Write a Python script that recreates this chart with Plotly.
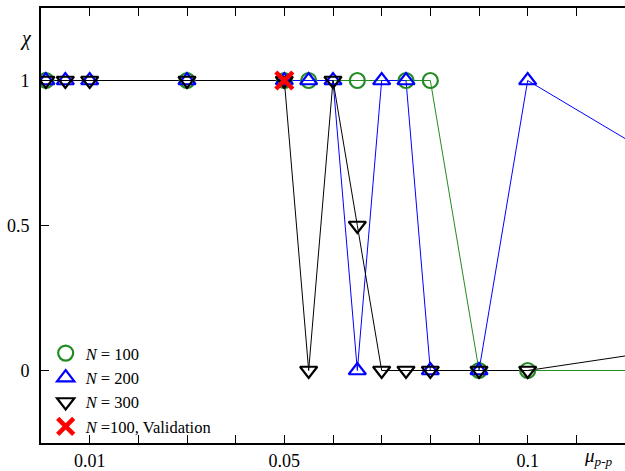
import plotly.graph_objects as go

# Data
x100 = [0.001, 0.03, 0.05, 0.055, 0.065, 0.075, 0.08, 0.09, 0.1, 0.2]
y100 = [1, 1, 1, 1, 1, 1, 1, 0, 0, 0]

x200 = [0.001, 0.005, 0.01, 0.03, 0.05, 0.055, 0.06, 0.065, 0.07, 0.075, 0.08, 0.09, 0.1, 0.2]
y200 = [1, 1, 1, 1, 1, 1, 1, 0, 1, 1, 0, 0, 1, 0]

x300 = [0.001, 0.005, 0.01, 0.03, 0.05, 0.055, 0.06, 0.065, 0.07, 0.075, 0.08, 0.09, 0.1, 0.2]
y300 = [1, 1, 1, 1, 1, 0, 1, 0.5, 0, 0, 0, 0, 0, 0.25]

xval = [0.05]
yval = [1]

xtick_vals = [0.01, 0.02, 0.03, 0.04, 0.05, 0.06, 0.07, 0.08, 0.09, 0.1, 0.11]
xtick_text = ["0.01", "", "", "", "0.05", "", "", "", "", "0.1", ""]
ytick_vals = [0, 0.5, 1]
ytick_text = ["0", "0.5", "1"]

FONT = "Liberation Serif"

series = [
    (x100, y100, "<i>N</i> = 100", "#228B22", "circle-open"),
    (x200, y200, "<i>N</i> = 200", "#0000FF", "triangle-up-open"),
    (x300, y300, "<i>N</i> = 300", "#000000", "triangle-down-open"),
]

fig = go.Figure()
for xs, ys, name, col, sym in series:
    fig.add_trace(go.Scatter(x=xs, y=ys, mode="lines", showlegend=False,
                             line=dict(color=col, width=1), hoverinfo="skip"))
for xs, ys, name, col, sym in series:
    fig.add_trace(go.Scatter(x=xs, y=ys, mode="markers", name=name,
                             marker=dict(symbol=sym, size=15, color=col, line=dict(width=2.2))))
fig.add_trace(go.Scatter(
    x=xval, y=yval, mode="markers", name="<i>N</i> =100, Validation",
    marker=dict(symbol="x-thin", size=17, color="#FF0000", line=dict(width=4.5, color="#FF0000")),
))

def px(xp):
    return (xp - 41) / 584

def py(yp):
    return (443 - yp) / 435

fig.update_layout(
    width=625, height=471,
    margin=dict(l=41, r=0, t=8, b=28),
    paper_bgcolor="white", plot_bgcolor="white",
    font=dict(family=FONT, size=18, color="black"),
    showlegend=True,
    legend=dict(x=0.008, y=-0.002, xanchor="left", yanchor="bottom",
                bgcolor="rgba(0,0,0,0)", font=dict(family=FONT, size=16.5),
                tracegroupgap=0, itemwidth=30),
    xaxis=dict(range=[0, 0.12], showgrid=False, zeroline=False,
               showline=True, linecolor="black", linewidth=2,
               mirror="ticks", ticks="inside", ticklen=8, tickcolor="black", tickwidth=1,
               tickvals=xtick_vals, ticktext=xtick_text,
               tickfont=dict(family=FONT, size=18)),
    yaxis=dict(range=[-0.25, 1.25], showgrid=False, zeroline=False,
               showline=True, linecolor="black", linewidth=2,
               ticks="inside", ticklen=8, tickcolor="black", tickwidth=1,
               tickvals=ytick_vals, ticktext=ytick_text,
               ticklabelstandoff=6,
               tickfont=dict(family=FONT, size=18)),
    annotations=[
        dict(text="<i>χ</i>", xref="paper", yref="paper",
             x=px(18), y=py(25), showarrow=False,
             font=dict(family=FONT, size=20)),
        dict(text="<i>μ</i><sub><i>p-p</i></sub>", xref="paper", yref="paper",
             x=px(582), y=py(471), xanchor="left", yanchor="bottom", showarrow=False,
             font=dict(family=FONT, size=19)),
    ],
)

fig.write_html("out.html")
